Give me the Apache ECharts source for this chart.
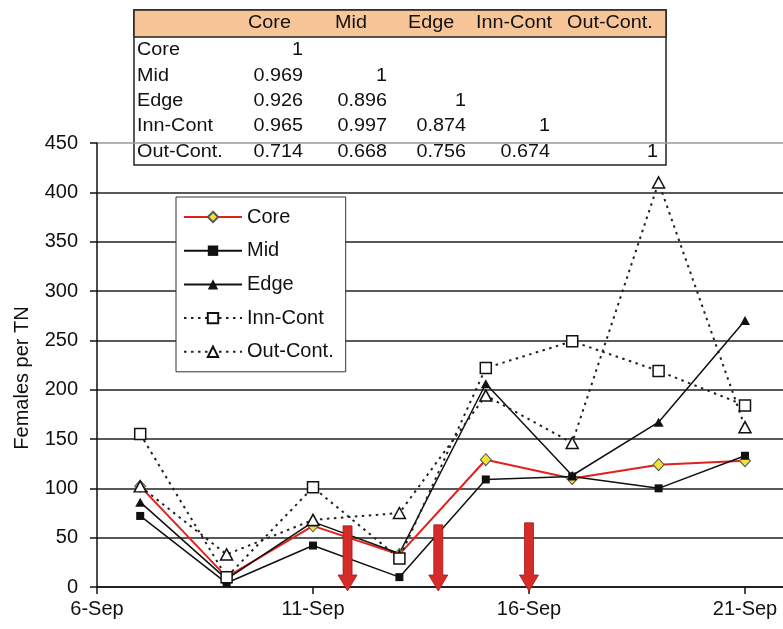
<!DOCTYPE html>
<html>
<head>
<meta charset="utf-8">
<script src="https://cdn.jsdelivr.net/npm/echarts@6/dist/echarts.min.js"></script>
<style>
  html, body { margin: 0; padding: 0; background: #fff; }
  #chart { width: 783px; height: 629px; }
</style>
</head>
<body>
<div id="chart"></div>
<script>
// Sampling days (day of September)
const days = [7, 9, 11, 13, 15, 17, 19, 21];

// Females per TN for each trap zone
const core    = [102, 10, 62, 33, 129, 110, 124, 128];
const mid     = [72, 4, 42, 10, 109, 112, 100, 133];
const edge    = [86, 8, 66, 34, 206, 113, 167, 270];
const innCont = [155, 10, 101, 29, 222, 249, 219, 184];
const outCont = [102, 33, 68, 75, 194, 146, 410, 162];

const seriesNames = ['Core', 'Mid', 'Edge', 'Inn-Cont', 'Out-Cont.'];

// Date axis labels
const dateTicks = [6, 11, 16, 21];

// Treatment arrows: day and top of the arrow (females per TN scale)
const arrowDays = [11.8, 13.9, 16.0];
const arrowTops = [62, 63, 65];

// Correlation matrix between zones
const corrHeader = ['Core', 'Mid', 'Edge', 'Inn-Cont', 'Out-Cont.'];
const corrRowNames = ['Core', 'Mid', 'Edge', 'Inn-Cont', 'Out-Cont.'];
const corrValues = [
  ['1'],
  ['0.969', '1'],
  ['0.926', '0.896', '1'],
  ['0.965', '0.997', '0.874', '1'],
  ['0.714', '0.668', '0.756', '0.674', '1']
];

const FONT = '"Liberation Sans", Arial, sans-serif';
const INK = '#111';

function pairs(vals) { return days.map((d, i) => [d, vals[i]]); }

// ---- correlation table drawn as graphic elements ----
const tbl = { left: 134, top: 10, width: 532, height: 155, headH: 27 };
const headX = [248, 335, 408, 476, 567];
const valRight = [303, 387, 466, 550, 658];
const rowY = [50, 76, 101, 126, 152];
const textScale = 1.1;

const tableEls = [
  { type: 'rect', shape: { x: tbl.left, y: tbl.top, width: tbl.width, height: tbl.height },
    style: { fill: '#fff', stroke: '#222', lineWidth: 1.5 } },
  { type: 'rect', shape: { x: tbl.left, y: tbl.top, width: tbl.width, height: tbl.headH },
    style: { fill: '#F8C598', stroke: '#222', lineWidth: 1.5 } }
];
corrHeader.forEach((h, j) => {
  tableEls.push({ type: 'text', x: headX[j], y: tbl.top + tbl.headH / 2, scaleX: textScale,
    style: { text: h, fontSize: 18, fontFamily: FONT, fill: INK, align: 'left', verticalAlign: 'middle' } });
});
corrRowNames.forEach((r, i) => {
  tableEls.push({ type: 'text', x: tbl.left + 3, y: rowY[i], scaleX: textScale,
    style: { text: r, fontSize: 18, fontFamily: FONT, fill: INK, align: 'left', verticalAlign: 'middle' } });
  corrValues[i].forEach((v, j) => {
    tableEls.push({ type: 'text', x: valRight[j], y: rowY[i], scaleX: textScale,
      style: { text: v, fontSize: 18, fontFamily: FONT, fill: INK, align: 'right', verticalAlign: 'middle' } });
  });
});

// ---- chart ----
const chart = echarts.init(document.getElementById('chart'), null, { renderer: 'canvas' });

const dotted = [2.5, 4.5];
const splitColors = ['#222', '#222', '#222', '#222', '#222', '#222', '#222', '#222', '#222', '#9a9a9a'];

chart.setOption({
  animation: false,
  backgroundColor: '#fff',
  textStyle: { fontFamily: FONT, color: INK },
  // the date scale runs on past the right edge of the page (to 22-Sep)
  grid: { left: 97, top: 143, width: 691.2, bottom: 42, outerBoundsMode: 'none', containLabel: false },
  xAxis: {
    type: 'value', min: 6, max: 22,
    splitLine: { show: false },
    axisLine: { lineStyle: { color: INK, width: 1.5 } },
    axisTick: { customValues: dateTicks, length: 7, lineStyle: { color: INK, width: 1.5 } },
    axisLabel: { customValues: dateTicks, formatter: v => v + '-Sep', fontSize: 20,
      fontFamily: FONT, color: INK, margin: 12 }
  },
  yAxis: {
    type: 'value', min: 0, max: 450, interval: 50,
    axisLine: { show: true, lineStyle: { color: INK, width: 1.5 } },
    axisTick: { show: true, length: 7, lineStyle: { color: INK, width: 1.5 } },
    axisLabel: { fontSize: 20, fontFamily: FONT, color: INK, margin: 19 },
    splitLine: { show: true, lineStyle: { color: splitColors, width: 1.6 } }
  },
  legend: {
    data: seriesNames, orient: 'vertical', left: 176, top: 197,
    padding: [10, 12, 10, 7], itemGap: 13.7, itemWidth: 58, itemHeight: 13,
    backgroundColor: '#fff', borderColor: '#333', borderWidth: 1,
    selectedMode: false,
    textStyle: { fontSize: 20, fontFamily: FONT, color: INK, lineHeight: 20 }
  },
  graphic: [
    { type: 'text', x: 22, y: 378, rotation: Math.PI / 2,
      style: { text: 'Females per TN', fontSize: 20, fontFamily: FONT, fill: INK,
        align: 'center', verticalAlign: 'middle' } },
    { type: 'group', z: 100, children: tableEls }
  ],
  series: [
    { name: 'Core', type: 'line', data: pairs(core),
      symbol: 'diamond', symbolSize: [11, 12],
      lineStyle: { color: '#E2201C', width: 2 },
      itemStyle: { color: '#EDE23C', borderColor: '#555', borderWidth: 1 } },
    { name: 'Mid', type: 'line', data: pairs(mid),
      symbol: 'rect', symbolSize: 8,
      lineStyle: { color: INK, width: 1.5 },
      itemStyle: { color: INK } },
    { name: 'Edge', type: 'line', data: pairs(edge),
      symbol: 'triangle', symbolSize: [10, 9],
      lineStyle: { color: INK, width: 1.5 },
      itemStyle: { color: INK } },
    { name: 'Inn-Cont', type: 'line', data: pairs(innCont),
      symbol: 'rect', symbolSize: 11,
      lineStyle: { color: '#222', width: 2, type: dotted },
      itemStyle: { color: '#fff', borderColor: INK, borderWidth: 1.5 } },
    { name: 'Out-Cont.', type: 'line', data: pairs(outCont),
      symbol: 'triangle', symbolSize: [12, 11],
      lineStyle: { color: '#222', width: 2, type: dotted },
      itemStyle: { color: '#fff', borderColor: INK, borderWidth: 1.5 } },
    { name: 'treatment', type: 'custom', z: 10, clip: false,
      data: arrowDays.map((d, i) => [d, arrowTops[i]]),
      renderItem: (params, api) => {
        const top = api.coord([api.value(0), api.value(1)]);
        const base = api.coord([api.value(0), 0]);
        const x = top[0], y0 = top[1], tip = base[1] + 4;
        const headTop = tip - 16, sw = 4.5, hw = 9.5;
        return {
          type: 'polygon',
          shape: { points: [[x - sw, y0], [x + sw, y0], [x + sw, headTop], [x + hw, headTop],
            [x, tip], [x - hw, headTop], [x - sw, headTop]] },
          style: { fill: '#D52B29', stroke: '#A51A18', lineWidth: 0.8 }
        };
      } }
  ]
});
</script>
</body>
</html>
